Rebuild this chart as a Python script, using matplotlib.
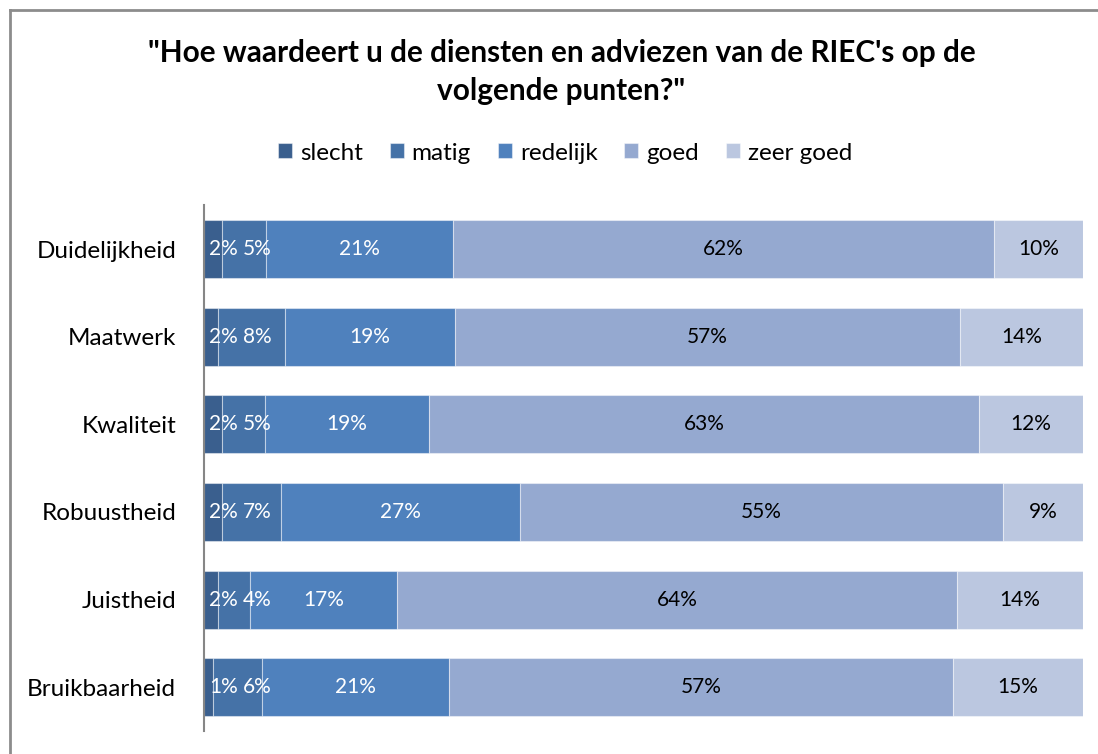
import matplotlib
matplotlib.use("Agg")
import matplotlib.pyplot as plt
from matplotlib.lines import Line2D
import numpy as np

categories = ["Duidelijkheid", "Maatwerk", "Kwaliteit", "Robuustheid", "Juistheid", "Bruikbaarheid"]
series_names = ["slecht", "matig", "redelijk", "goed", "zeer goed"]
slecht = [2.0, 1.6, 2.1, 2.0, 1.6, 1.0]
matig = [5.1, 7.6, 4.8, 6.8, 3.6, 5.6]
redelijk = [21.2, 19.4, 18.7, 27.2, 16.8, 21.3]
goed = [61.6, 57.4, 62.6, 54.9, 63.7, 57.3]
zeer_goed = [10.1, 14.0, 11.8, 9.1, 14.3, 14.8]

colors = ["#3A5F8E", "#4572A7", "#4F81BD", "#95A9D0", "#BBC7E0"]
text_colors = ["white", "white", "white", "black", "black"]

W, H = 1098, 754
fig = plt.figure(figsize=(W / 100, H / 100), dpi=100)
ax = fig.add_axes([204 / W, 23 / H, 879 / W, 525.6 / H])

data = [slecht, matig, redelijk, goed, zeer_goed]
y = np.arange(len(categories))
left = np.zeros(len(categories))
label_font = "Lato"
label_size = 15
texts = []  # (series index, row, text, left, value)
for si, (vals, name, col, tcol) in enumerate(zip(data, series_names, colors, text_colors)):
    vals = np.array(vals)
    ax.barh(y, vals, left=left, height=0.66, color=col, label=name,
            edgecolor=(1, 1, 1, 0.45), linewidth=0.8)
    for yi, (l, v) in enumerate(zip(left, vals)):
        t = ax.text(l + v / 2, yi, f"{v:.0f}%", ha="center", va="center",
                    color=tcol, fontsize=label_size, family=label_font)
        texts.append((si, yi, t, l, v))
    left = left + vals

ax.set_xlim(0, 100)
ax.set_ylim(len(categories) - 0.5, -0.5)
ax.set_yticks(y)
ax.set_yticklabels(categories, fontsize=17.5, family=label_font)
ax.tick_params(axis="y", length=0, pad=20)
ax.set_xticks([])
for s in ["top", "right", "bottom"]:
    ax.spines[s].set_visible(False)
ax.spines["left"].set_color("#868686")
ax.spines["left"].set_linewidth(1.5)

# avoid overlapping labels in the narrow first segments (as the original does)
fig.canvas.draw()
renderer = fig.canvas.get_renderer()
px_per_unit = ax.bbox.width / 100.0
prev_right = {}
for si, yi, t, l, v in texts:
    if si > 1:
        continue
    bb = t.get_window_extent(renderer)
    w_units = bb.width / px_per_unit
    gap = 5 / px_per_unit
    min_left = prev_right.get(yi, 0.0) + gap
    center = max(l + v / 2, min_left + w_units / 2)
    t.set_x(center)
    prev_right[yi] = center + w_units / 2

fig.text(561.5 / W, 1 - 72 / H, "\"Hoe waardeert u de diensten en adviezen van de RIEC's op de\nvolgende punten?\"",
         ha="center", va="center", fontsize=21.4, fontweight="bold", family="Lato",
         linespacing=1.42)

fig.legend(loc="center", bbox_to_anchor=(565 / W, 1 - 153 / H), ncol=5, frameon=False,
           prop={"family": label_font, "size": 17.5}, handlelength=0.58, handleheight=0.58,
           handletextpad=0.33, columnspacing=1.1)

fig.add_artist(Line2D([10 / W, 10 / W], [0, 1 - 10 / H], color="#8C8C8C", lw=2, transform=fig.transFigure))
fig.add_artist(Line2D([10 / W, 1], [1 - 10 / H, 1 - 10 / H], color="#8C8C8C", lw=2, transform=fig.transFigure))

fig.savefig("out.png", dpi=100)
